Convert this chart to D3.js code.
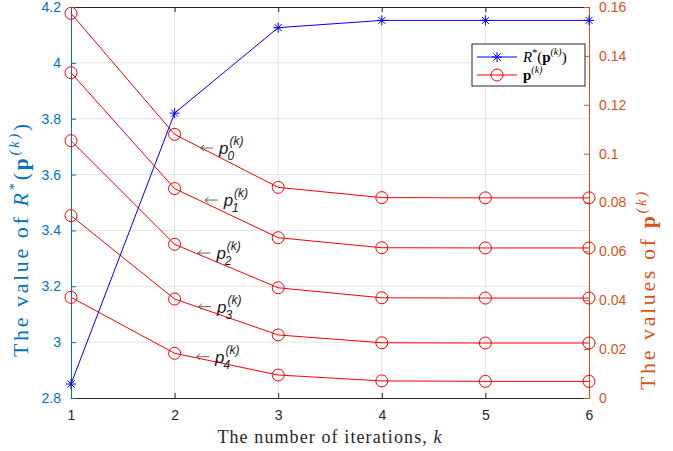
<!DOCTYPE html>
<html>
<head>
<meta charset="utf-8">
<script src="https://cdn.jsdelivr.net/npm/d3@7"></script>
<style>
  body { margin: 0; background: #fff; }
  svg { display: block; }
</style>
</head>
<body>
<div id="chart"></div>
<script>
// data
const iterations = [1, 2, 3, 4, 5, 6];
const rateValues = [2.85, 3.82, 4.126, 4.152, 4.152, 4.152];
const p0 = [0.1574, 0.1079, 0.0862, 0.0820, 0.0819, 0.0819];
const p1 = [0.1331, 0.0857, 0.0656, 0.0615, 0.0614, 0.0614];
const p2 = [0.1053, 0.0629, 0.0451, 0.0410, 0.0409, 0.0409];
const p3 = [0.0746, 0.0405, 0.0258, 0.0226, 0.0225, 0.0225];
const p4 = [0.0412, 0.0183, 0.0094, 0.0070, 0.0068, 0.0068];
const pSeries = [p0, p1, p2, p3, p4];
const pLabelAt = [[2.245, 0.1023], [2.29, 0.081], [2.22, 0.0593], [2.226, 0.0374], [2.207, 0.0169]];
const xTicks = [1, 2, 3, 4, 5, 6];
const leftTicks = [2.8, 3, 3.2, 3.4, 3.6, 3.8, 4, 4.2];
const rightTicks = [0, 0.02, 0.04, 0.06, 0.08, 0.1, 0.12, 0.14, 0.16];

const W = 673, H = 451;
const margin = { top: 7, right: 84, bottom: 53, left: 71 };
const width = W - margin.left - margin.right;
const height = H - margin.top - margin.bottom;

const blueAxis = "#0072BD", orangeAxis = "#D95319", dark = "#262626";
const sans = "'Liberation Sans', Arial, sans-serif";
const serif = "'Liberation Serif', 'Times New Roman', serif";

const svg = d3.select("#chart").append("svg")
  .attr("width", W).attr("height", H);
const g = svg.append("g")
  .attr("transform", `translate(${margin.left},${margin.top})`);

const x = d3.scaleLinear().domain([1, 6]).range([0, width]);
const yL = d3.scaleLinear().domain([2.8, 4.2]).range([height, 0]);
const yR = d3.scaleLinear().domain([0, 0.16]).range([height, 0]);

// grid
g.append("g").selectAll("line").data(xTicks.slice(1, -1)).join("line")
  .attr("x1", d => x(d)).attr("x2", d => x(d))
  .attr("y1", 0).attr("y2", height)
  .attr("stroke", "#e3e3e3").attr("stroke-width", 1);
g.append("g").selectAll("line").data(leftTicks.slice(1, -1)).join("line")
  .attr("x1", 0).attr("x2", width)
  .attr("y1", d => yL(d)).attr("y2", d => yL(d))
  .attr("stroke", "#e3e3e3").attr("stroke-width", 1);

// axes (MATLAB style: ticks inward)
const styleAxis = (sel, color) => {
  sel.select(".domain").attr("stroke", color);
  sel.selectAll(".tick line").attr("stroke", color);
  sel.selectAll(".tick text").attr("fill", color)
    .attr("font-family", sans).attr("font-size", 14);
};

g.append("g").attr("transform", `translate(0,${height})`)
  .call(d3.axisBottom(x).tickValues(xTicks).tickFormat(d3.format("d"))
    .tickSizeInner(-5).tickSizeOuter(0).tickPadding(12))
  .call(s => styleAxis(s, dark));
g.append("g")
  .call(d3.axisTop(x).tickValues(xTicks).tickFormat("")
    .tickSizeInner(-5).tickSizeOuter(0))
  .call(s => styleAxis(s, dark));
g.append("g")
  .call(d3.axisLeft(yL).tickValues(leftTicks).tickFormat(d => d3.format("")(+d.toFixed(1)))
    .tickSizeInner(-5).tickSizeOuter(0).tickPadding(10))
  .call(s => styleAxis(s, blueAxis));
g.append("g").attr("transform", `translate(${width},0)`)
  .call(d3.axisRight(yR).tickValues(rightTicks).tickFormat(d => d3.format("")(+d.toFixed(2)))
    .tickSizeInner(-5).tickSizeOuter(0).tickPadding(10))
  .call(s => styleAxis(s, orangeAxis));

// red p series
const lineR = d3.line().x((d, i) => x(iterations[i])).y(d => yR(d));
pSeries.forEach(s => {
  g.append("path").datum(s)
    .attr("d", lineR).attr("fill", "none")
    .attr("stroke", "#ff0000").attr("stroke-width", 1);
  g.append("g").selectAll("circle").data(s).join("circle")
    .attr("cx", (d, i) => x(iterations[i])).attr("cy", d => yR(d))
    .attr("r", 6).attr("fill", "none")
    .attr("stroke", "#ff0000").attr("stroke-width", 1);
});

// blue rate series
const lineL = d3.line().x((d, i) => x(iterations[i])).y(d => yL(d));
g.append("path").datum(rateValues)
  .attr("d", lineL).attr("fill", "none")
  .attr("stroke", "#0000ff").attr("stroke-width", 1);
const star = (sel, r) => {
  sel.append("path")
    .attr("d", `M${-r},0H${r}M0,${-r}V${r}M${-r * 0.7},${-r * 0.7}L${r * 0.7},${r * 0.7}M${-r * 0.7},${r * 0.7}L${r * 0.7},${-r * 0.7}`)
    .attr("stroke", "#0000ff").attr("stroke-width", 1).attr("fill", "none");
};
g.append("g").selectAll("g").data(rateValues).join("g")
  .attr("transform", (d, i) => `translate(${x(iterations[i])},${yL(d)})`)
  .each(function () { star(d3.select(this), 5); });

// annotations: arrow + p_i^(k)
pLabelAt.forEach((d, i) => {
  const a = g.append("g").attr("transform", `translate(${x(d[0])},${yR(d[1])})`);
  a.append("path").attr("d", "M13,0H0.5M4,-3L0.5,0L4,3")
    .attr("fill", "none").attr("stroke", "#555").attr("stroke-width", 0.9);
  const t = a.append("text")
    .attr("x", 19).attr("dy", "0.35em")
    .attr("font-family", sans).attr("font-size", 17).attr("fill", "#1a1a1a");
  t.append("tspan").attr("font-style", "italic").text("p");
  t.append("tspan").attr("font-style", "italic").attr("font-size", 12)
    .attr("dy", -9).attr("dx", 1).text("(k)");
  t.append("tspan").attr("font-style", "italic").attr("font-size", 12)
    .attr("dx", -16).attr("dy", 15).text(i);
});

// legend
const lg = g.append("g").attr("transform", `translate(${472 - margin.left},${44 - margin.top})`);
lg.append("rect").attr("width", 113).attr("height", 42)
  .attr("fill", "#fff").attr("stroke", dark).attr("stroke-width", 1);
lg.append("line").attr("x1", 5).attr("x2", 45).attr("y1", 13).attr("y2", 13)
  .attr("stroke", "#0000ff");
lg.append("g").attr("transform", "translate(25,13)").call(s => star(s, 5));
lg.append("line").attr("x1", 5).attr("x2", 45).attr("y1", 31).attr("y2", 31)
  .attr("stroke", "#ff0000");
lg.append("circle").attr("cx", 25).attr("cy", 31).attr("r", 6)
  .attr("fill", "none").attr("stroke", "#ff0000");

const lt1 = lg.append("text").attr("x", 51).attr("y", 18)
  .attr("font-family", serif).attr("font-size", 15).attr("fill", "#000");
lt1.append("tspan").attr("font-style", "italic").text("R");
lt1.append("tspan").attr("font-size", 10).attr("dy", -6).text("*");
lt1.append("tspan").attr("dy", 6).text("(");
lt1.append("tspan").attr("font-weight", "bold").text("p");
lt1.append("tspan").attr("font-size", 10).attr("dy", -7).attr("font-style", "italic").text("(k)");
lt1.append("tspan").attr("dy", 7).text(")");

const lt2 = lg.append("text").attr("x", 51).attr("y", 36)
  .attr("font-family", serif).attr("font-size", 15).attr("fill", "#000");
lt2.append("tspan").attr("font-weight", "bold").text("p");
lt2.append("tspan").attr("font-size", 10).attr("dy", -7).attr("font-style", "italic").text("(k)");

// axis titles
svg.append("text")
  .attr("x", margin.left + width / 2).attr("y", 443)
  .attr("text-anchor", "middle")
  .attr("font-family", serif).attr("font-size", 18).attr("letter-spacing", 1.1)
  .attr("fill", dark)
  .call(t => {
    t.append("tspan").text("The number of iterations, ");
    t.append("tspan").attr("font-style", "italic").text("k");
  });

const leftTitle = svg.append("text")
  .attr("transform", "translate(28,357) rotate(-90)")
  .attr("font-family", serif).attr("font-size", 22).attr("letter-spacing", 2.6)
  .attr("fill", blueAxis);
leftTitle.append("tspan").text("The value of ");
leftTitle.append("tspan").attr("font-style", "italic").text("R");
leftTitle.append("tspan").attr("font-size", 15).attr("dy", -9).text("*");
leftTitle.append("tspan").attr("dy", 9).text("(");
leftTitle.append("tspan").attr("font-weight", "bold").text("p");
leftTitle.append("tspan").attr("font-size", 15).attr("font-style", "italic").attr("dy", -9).text("(k)");
leftTitle.append("tspan").attr("dy", 9).text(")");

const rightTitle = svg.append("text")
  .attr("transform", "translate(655,390) rotate(-90)")
  .attr("font-family", serif).attr("font-size", 22).attr("letter-spacing", 2.6)
  .attr("fill", orangeAxis);
rightTitle.append("tspan").text("The values of ");
rightTitle.append("tspan").attr("font-weight", "bold").text("p");
rightTitle.append("tspan").attr("font-size", 15).attr("font-style", "italic").attr("dy", -9).text("(k)");
</script>
</body>
</html>
